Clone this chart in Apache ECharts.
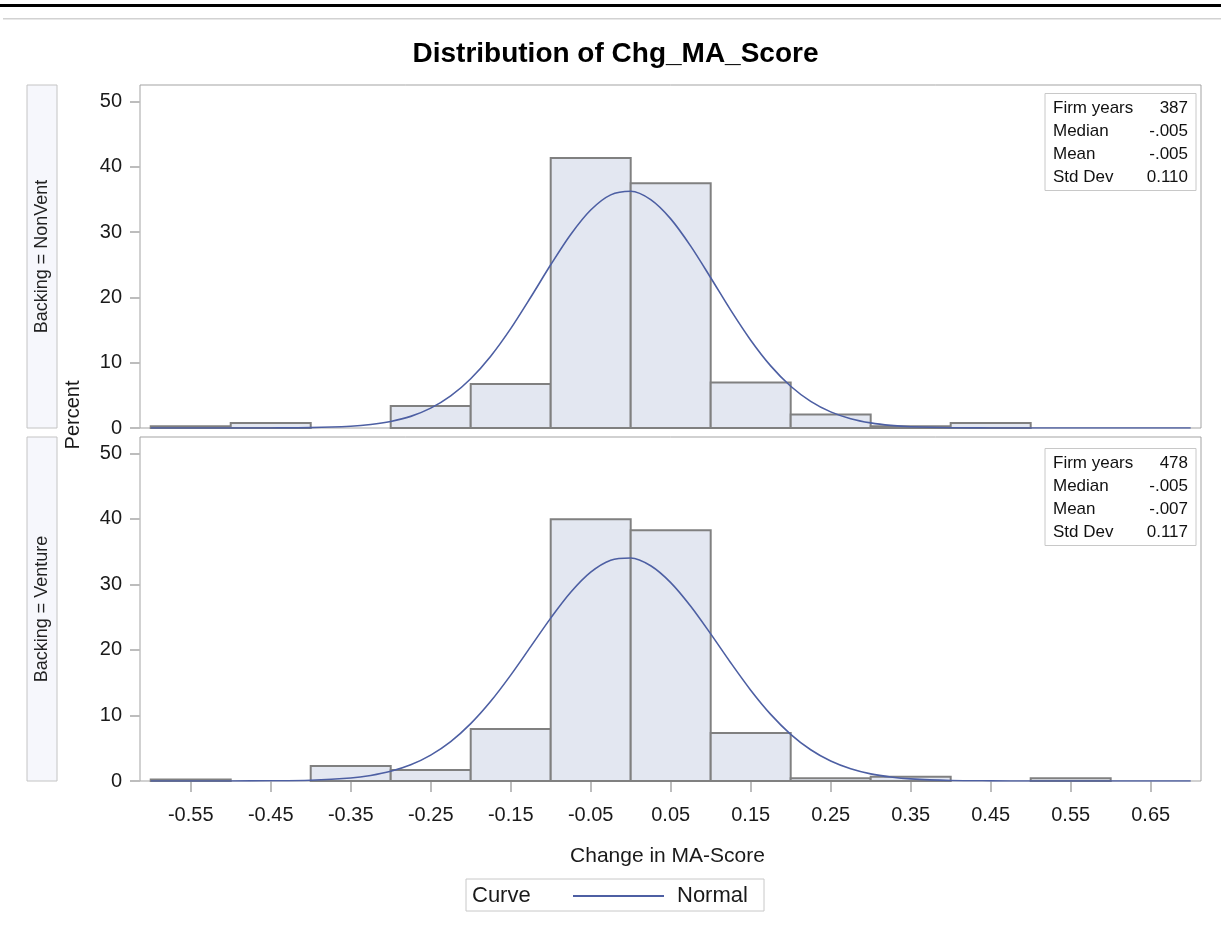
<!DOCTYPE html>
<html><head><meta charset="utf-8">
<script src="https://cdn.jsdelivr.net/npm/echarts@6/dist/echarts.min.js"></script>
<style>html,body{margin:0;padding:0;background:#fff}#c{width:1221px;height:928px}</style>
</head><body><div id="c"></div>
<script>
// ---- data ----
const binEdges = [-0.6,-0.5,-0.4,-0.3,-0.2,-0.1,0,0.1,0.2,0.3,0.4,0.5,0.6,0.7];
const nonVentPct = [0.26,0.78,0,3.36,6.72,41.34,37.47,6.98,2.07,0.26,0.78,0,0];
const venturePct = [0.21,0,2.30,1.67,7.95,39.96,38.28,7.32,0.42,0.63,0,0.42,0];
const curveX = [-0.6,-0.55,-0.5,-0.45,-0.4,-0.35,-0.325,-0.3,-0.275,-0.25,-0.225,-0.2,-0.175,-0.15,-0.125,-0.1,-0.075,-0.05,-0.025,0,0.025,0.05,0.075,0.1,0.125,0.15,0.175,0.2,0.225,0.25,0.275,0.3,0.325,0.35,0.4,0.45,0.5,0.55,0.6,0.65,0.7];
const nonVentNormal = [0,0,0,0.01,0.06,0.27,0.53,1.00,1.78,3.04,4.91,7.54,10.99,15.21,20.01,24.98,29.62,33.36,35.68,36.23,34.95,32.01,27.84,23.00,18.04,13.44,9.51,6.39,4.08,2.47,1.42,0.78,0.40,0.20,0.04,0.01,0,0,0,0,0];
const ventureNormal = [0,0,0.01,0.03,0.12,0.46,0.85,1.48,2.47,3.95,6.01,8.75,12.16,16.16,20.51,24.86,28.80,31.87,33.70,34.04,32.85,30.28,26.67,22.45,18.05,13.86,10.17,7.13,4.77,3.05,1.87,1.09,0.61,0.32,0.08,0.02,0,0,0,0,0];
const xTickValues = [-0.55,-0.45,-0.35,-0.25,-0.15,-0.05,0.05,0.15,0.25,0.35,0.45,0.55,0.65];
const xTickLabels = ['-0.55','-0.45','-0.35','-0.25','-0.15','-0.05','0.05','0.15','0.25','0.35','0.45','0.55','0.65'];
const yTickValues = [0,10,20,30,40,50];
const panelLabels = ['Backing = NonVent','Backing = Venture'];
const statNames = ['Firm years','Median','Mean','Std Dev'];
const nonVentStats = ['387','-.005','-.005','0.110'];
const ventureStats = ['478','-.005','-.007','0.117'];
const titleText = 'Distribution of Chg_MA_Score';
const xTitle = 'Change in MA-Score';
const yTitle = 'Percent';
const legendTitle = 'Curve';
const curveName = 'Normal';

// ---- layout / style ----
const FONT = 'Liberation Sans, Arial, sans-serif';
const panels = [{top:85, height:343}, {top:437, height:344}];
const PL = 140, PW = 1061;
const X_MIN = -0.6134, X_MAX = 0.7129, Y_MAX = 52.5;
const frameColor = '#a3a3a3';
const barFill = '#e3e7f1', barStroke = '#808080', curveColor = '#4d5fa3';
const tickColor = '#bdbdbd', textColor = '#1a1a1a';

function nearestLabel(v){
  let best = 0, d = Infinity;
  xTickValues.forEach((t,i)=>{ if (Math.abs(t-v)<d){d=Math.abs(t-v);best=i;} });
  return xTickLabels[best];
}

const grids = panels.map(p => ({left:PL, top:p.top, width:PW, height:p.height, show:true, borderColor:frameColor, borderWidth:1, backgroundColor:'transparent', containLabel:false}));

const xAxes = panels.map((p,i) => ({
  type:'value', gridIndex:i, min:X_MIN, max:X_MAX, position:'bottom',
  splitLine:{show:false},
  axisLine:{show:false, onZero:false},
  axisTick:{show:i===1, customValues:xTickValues, length:11, lineStyle:{color:tickColor, width:2}},
  axisLabel:{show:i===1, customValues:xTickValues, formatter:nearestLabel, margin:24, fontSize:20, fontFamily:FONT, color:textColor}
}));
const yAxes = panels.map((p,i) => ({
  type:'value', gridIndex:i, min:0, max:Y_MAX, position:'left',
  splitLine:{show:false},
  axisLine:{show:false, onZero:false},
  axisTick:{show:true, customValues:yTickValues, length:10, lineStyle:{color:tickColor, width:2}},
  axisLabel:{customValues:yTickValues, margin:18, padding:[4,0,0,0], fontSize:20, fontFamily:FONT, color:textColor}
}));

function barSeries(idx, pct){
  return {
    type:'custom', xAxisIndex:idx, yAxisIndex:idx, z:2,
    data: pct.map((v,i)=>[binEdges[i], binEdges[i+1], v]),
    encode:{x:[0,1], y:2},
    renderItem:(params, api) => {
      const y = api.value(2);
      if (!(y > 0)) return null;
      const p0 = api.coord([api.value(0), y]);
      const p1 = api.coord([api.value(1), 0]);
      return {type:'rect', shape:{x:p0[0], y:p0[1], width:p1[0]-p0[0], height:p1[1]-p0[1]},
        style:{fill:barFill, stroke:barStroke, lineWidth:2}};
    },
    silent:true
  };
}
function curveSeries(idx, vals){
  return {
    type:'line', name:curveName, xAxisIndex:idx, yAxisIndex:idx, z:3,
    data: curveX.map((x,i)=>[x, vals[i]]),
    symbol:'none', showSymbol:false, smooth:0.3, clip:true,
    lineStyle:{color:curveColor, width:1.6}, itemStyle:{color:curveColor},
    silent:true
  };
}

function statBox(top, values){
  const children = [{type:'rect', shape:{x:0, y:0, width:151, height:97}, style:{fill:'#fff', stroke:'#c8c8c8', lineWidth:1}}];
  statNames.forEach((n,i)=>{
    children.push({type:'text', x:8, y:15+i*22.8, style:{text:n, font:'17px '+FONT, fill:'#111', verticalAlign:'middle', textAlign:'left'}});
    children.push({type:'text', x:143, y:15+i*22.8, style:{text:values[i], font:'17px '+FONT, fill:'#111', verticalAlign:'middle', textAlign:'right'}});
  });
  return {type:'group', x:1045, y:top, children};
}
function strip(top, h, label){
  return {type:'group', x:27, y:top, children:[
    {type:'rect', shape:{x:0, y:0, width:30, height:h}, style:{fill:'#f6f7fc', stroke:'#c4c4c4', lineWidth:1}},
    {type:'text', x:15, y:h/2, rotation:Math.PI/2, style:{text:label, font:'18px '+FONT, fill:'#222', textAlign:'center', verticalAlign:'middle'}}
  ]};
}

const option = {
  animation:false,
  backgroundColor:'#fff',
  grid:grids, xAxis:xAxes, yAxis:yAxes,
  legend:{data:[curveName], left:567, top:880, itemWidth:91, itemHeight:22,
    itemStyle:{color:'transparent', borderWidth:0, opacity:0},
    textStyle:{fontSize:22, fontFamily:FONT, color:textColor, padding:[0,0,0,8]}},
  series:[barSeries(0, nonVentPct), curveSeries(0, nonVentNormal), barSeries(1, venturePct), curveSeries(1, ventureNormal)],
  graphic:[
    {type:'rect', shape:{x:0, y:4, width:1221, height:3}, style:{fill:'#000'}},
    {type:'rect', shape:{x:3, y:18, width:1218, height:1.5}, style:{fill:'#d2d2d2'}},
    {type:'text', x:615.5, y:54, style:{text:titleText, font:'bold 28px '+FONT, fill:'#000', textAlign:'center', verticalAlign:'middle'}},
    strip(85, 343, panelLabels[0]),
    strip(437, 344, panelLabels[1]),
    {type:'text', x:73, y:415, rotation:Math.PI/2, style:{text:yTitle, font:'20px '+FONT, fill:textColor, textAlign:'center', verticalAlign:'middle'}},
    {type:'text', x:667.5, y:856, style:{text:xTitle, font:'21px '+FONT, fill:textColor, textAlign:'center', verticalAlign:'middle'}},
    statBox(93.5, nonVentStats),
    statBox(448.5, ventureStats),
    {type:'rect', z:-1, shape:{x:466, y:879, width:298, height:32}, style:{fill:'#fff', stroke:'#c8c8c8', lineWidth:1}},
    {type:'text', x:472, y:896, style:{text:legendTitle, font:'22px '+FONT, fill:textColor, textAlign:'left', verticalAlign:'middle'}}
  ]
};
const chart = echarts.init(document.getElementById('c'), null, {renderer:'canvas'});
chart.setOption(option);
</script></body></html>
